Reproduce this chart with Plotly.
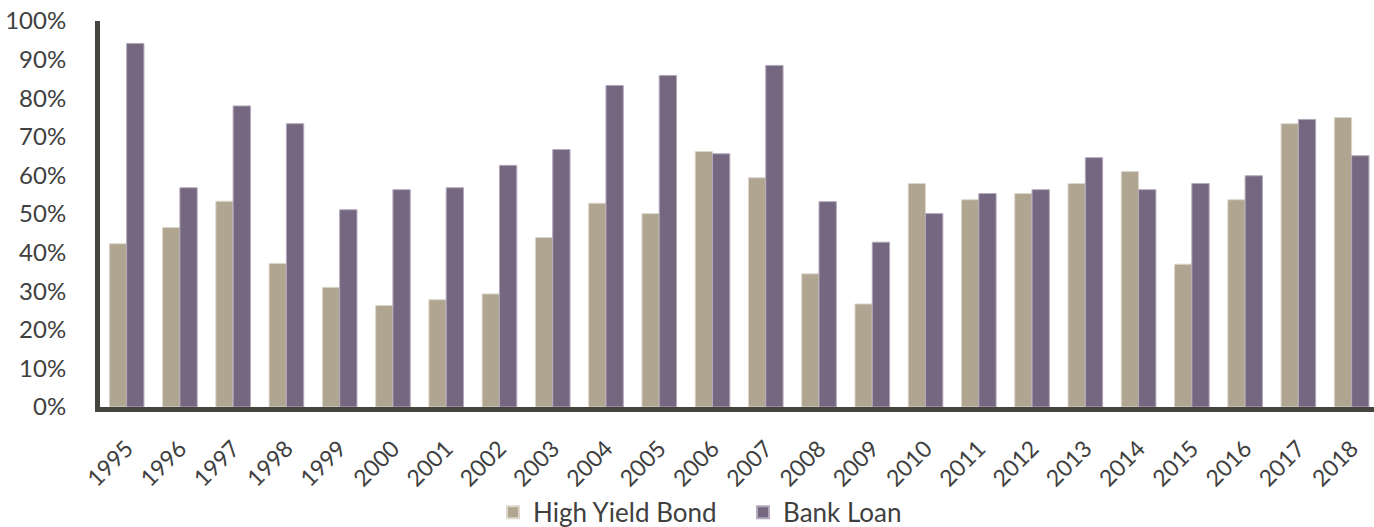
import plotly.graph_objects as go

years = [str(y) for y in range(1995, 2019)]
high_yield = [42.3, 46.5, 53.3, 37.2, 31.0, 26.3, 27.8, 29.3, 43.9, 52.8, 50.1, 66.2,
              59.4, 34.5, 26.7, 57.9, 53.7, 55.3, 57.9, 61.0, 37.0, 53.7, 73.4, 75.0]
bank_loan = [94.2, 56.8, 78.0, 73.4, 51.1, 56.3, 56.8, 62.6, 66.7, 83.3, 85.9, 65.6,
             88.5, 53.2, 42.7, 50.1, 55.3, 56.3, 64.6, 56.3, 57.9, 59.9, 74.5, 65.1]
y_ticks = list(range(0, 101, 10))
y_tick_text = [f"{v}%" for v in y_ticks]

FONT = "Lato"
TXT = "#404040"

fig = go.Figure()
fig.add_bar(x=years, y=high_yield, name="High Yield Bond",
            marker=dict(color="#b0a591", line=dict(color="#ddd6cb", width=1)))
fig.add_bar(x=years, y=bank_loan, name="Bank Loan",
            marker=dict(color="#75677f", line=dict(color="#b3a9bb", width=1)))

fig.update_layout(
    width=1374, height=527,
    margin=dict(l=100, r=0, t=21, b=120, autoexpand=False),
    paper_bgcolor="white", plot_bgcolor="white",
    barmode="group", bargap=0.35, bargroupgap=0,
    font=dict(family=FONT, color=TXT, size=20),
    showlegend=True,
    legend=dict(orientation="h", x=0.3085, xanchor="left",
                yref="container", y=0.028, yanchor="middle",
                font=dict(size=26, color=TXT), traceorder="normal",
                itemsizing="constant", entrywidth=205),
)
fig.update_xaxes(
    type="category", range=[-0.5, 23.42], automargin=False,
    showline=True, linecolor="#45443f", linewidth=5,
    tickangle=-45, tickfont=dict(size=23, color=TXT),
    showgrid=False, ticks="", ticklabelstandoff=14,
)
fig.update_yaxes(
    range=[0, 100], tickvals=y_ticks, ticktext=y_tick_text, automargin=False,
    showline=True, linecolor="#45443f", linewidth=5,
    showgrid=False, zeroline=False, ticks="",
    tickfont=dict(size=24, color=TXT), ticklabelstandoff=24,
)

fig.write_html("out.html")
